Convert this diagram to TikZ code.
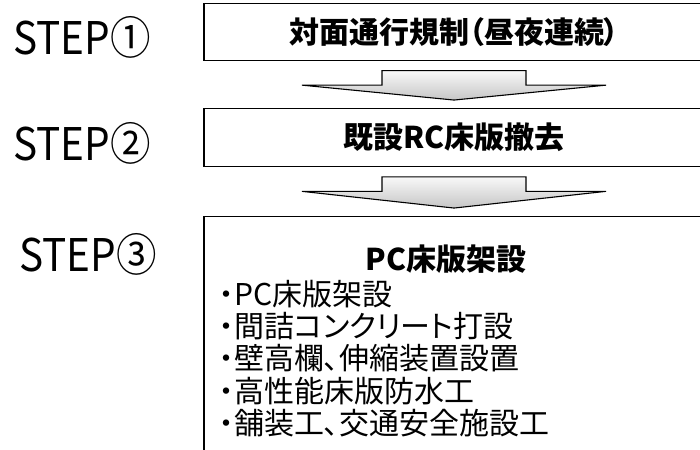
\documentclass[tikz,border=0pt]{standalone}
\usepackage{fontspec}
\setmainfont{Noto Sans CJK JP}[RawFeature=+palt]
\newfontfamily\stepfont{Noto Sans CJK JP}[FakeStretch=0.9]
\usetikzlibrary{calc}

% block arrow between two boxes
\newcommand{\steparrow}[2]{%
  \path[blockarrow] ($(#1.south)+(-72,9.5)$) -- ++(144,0) -- ++(0,14.5) -- ++(80,0)
    -- ($(#2.north)+(0,-8)$) -- ($(#1.south)+(-152,24)$) -- ++(80,0) -- cycle;}

\begin{document}
\begin{tikzpicture}[x=1pt,y=-1pt,
  box/.style={draw, line width=1.3pt, minimum width=500pt, inner sep=0pt},
  boxtext/.style={font=\bfseries\fontsize{30}{30}\selectfont},
  steplabel/.style={anchor=west, inner sep=0pt, font=\stepfont\fontsize{45}{45}\selectfont},
  listitem/.style={anchor=west, inner sep=0pt, font=\fontsize{30}{30}\selectfont},
  blockarrow/.style={draw, line width=1.1pt, line join=miter, top color=gray!5, bottom color=gray!45}]
\clip (0,0) rectangle (700,449);
\node[steplabel] (s1) at (13,37) {STEP①};
\node[steplabel] (s2) at (13,143) {STEP②};
\node[steplabel] (s3) at (19,254) {STEP③};
\node[box, boxtext, minimum height=57pt] (1) at (454,32) {対面通行規制（昼夜連続）};
\node[box, boxtext, minimum height=58pt] (2) at (454,137.7) {既設RC床版撤去};
\node[box, minimum height=253pt] (3) at (454,343.2) {};
\node[boxtext] (t3) at (446,259) {PC床版架設};
\node[listitem] (i1) at (219,294) {・PC床版架設};
\node[listitem] (i2) at (219,326.3) {・間詰コンクリート打設};
\node[listitem] (i3) at (219,358.6) {・壁高欄、伸縮装置設置};
\node[listitem] (i4) at (219,390.9) {・高性能床版防水工};
\node[listitem] (i5) at (219,423.2) {・舗装工、交通安全施設工};
\steparrow{1}{2}
\steparrow{2}{3}
\end{tikzpicture}
\end{document}
